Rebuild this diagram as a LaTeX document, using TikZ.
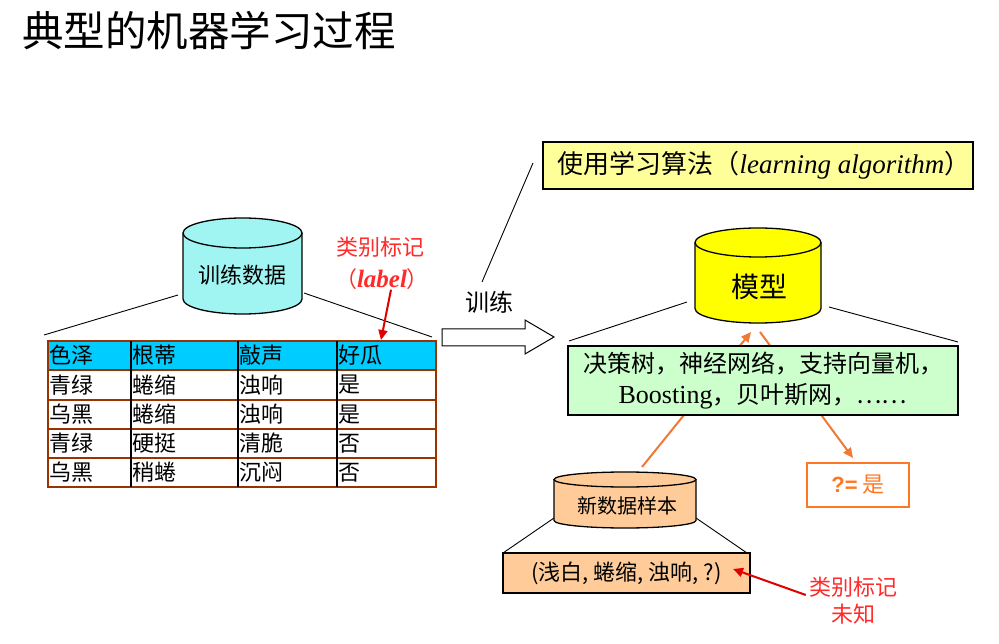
\documentclass[tikz,border=0pt]{standalone}
\usepackage{fontspec}
\newfontfamily\cjk{Noto Sans CJK SC}
\newfontfamily\arialf{Liberation Sans}
\newfontfamily\serifl{Liberation Serif}
\usetikzlibrary{arrows.meta}
\definecolor{cylcyan}{HTML}{A0F5F2}
\definecolor{hdrcyan}{HTML}{00CCFF}
\definecolor{tbrown}{HTML}{993300}
\definecolor{lyellow}{HTML}{FFFF99}
\definecolor{myellow}{HTML}{FFFF00}
\definecolor{lgreen}{HTML}{CCFFCC}
\definecolor{lorange}{HTML}{FFCC99}
\definecolor{arrorange}{HTML}{EE7A35}
\definecolor{txtorange}{HTML}{FF7722}
\definecolor{txtred}{HTML}{FF2A2A}
\definecolor{arrred}{HTML}{E00000}
\newcommand\cylbody[6]{%
  \fill[#6] (#1-#4,#2+#5) rectangle (#1+#4,#3-#5);
  \fill[#6] (#1,#3-#5) ellipse[x radius=#4pt,y radius=#5pt];
  \draw[cylline] (#1-#4,#2+#5) -- (#1-#4,#3-#5) arc[start angle=180,end angle=360,x radius=#4pt,y radius=#5pt] -- (#1+#4,#2+#5);
  \draw[cylline,fill=#6] (#1,#2+#5) ellipse[x radius=#4pt,y radius=#5pt];}
\tikzset{
  cylline/.style={draw=black,line width=1.3pt},
  thinline/.style={draw=black,line width=0.9pt},
  fs/.style={font=\cjk\fontsize{#1}{#1}\selectfont},
  cell/.style={fs=22,anchor=west,inner sep=0pt},
  orarrow/.style={draw=arrorange,line width=2pt,-{Triangle[length=10pt,width=9pt]}},
  redarrow/.style={draw=arrred,line width=2pt,-{Triangle[length=10pt,width=9pt]}},
}
\begin{document}
\begin{tikzpicture}[x=1pt,y=-1pt]
\useasboundingbox[fill=white] (0,0) rectangle (999,644);
% title
\node[fs=41.5,anchor=west,inner sep=0pt] (title) at (22,31) {典型的机器学习过程};

% training data cylinder
\cylbody{242.5}{218}{314}{59.5}{15}{cylcyan}
\node[fs=22,inner sep=0pt] (train) at (242.5,275) {训练数据};
\coordinate (trL) at (178,295);
\coordinate (trR) at (304,293);
\coordinate (tbL) at (44,335);
\coordinate (tbR) at (432,337);
\draw[thinline] (trL) -- (tbL);
\draw[thinline] (trR) -- (tbR);

% table
\fill[hdrcyan] (48,341) rectangle (436,370);
\foreach \yy in {341,370,400,429,458,487} \draw[tbrown,line width=1.6pt] (47,\yy) -- (437,\yy);
\draw[tbrown,line width=1.6pt] (48,341) -- (48,487);
\draw[tbrown,line width=1.6pt] (436,341) -- (436,487);
\foreach \xx in {131,238,337} \draw[black,line width=1.1pt] (\xx,341) -- (\xx,487);
\foreach \r/\yy/\a/\b/\c/\d in {0/355.5/色泽/根蒂/敲声/好瓜, 1/385/青绿/蜷缩/浊响/是, 2/414.5/乌黑/蜷缩/浊响/是, 3/443.5/青绿/硬挺/清脆/否, 4/472.5/乌黑/稍蜷/沉闷/否}{
  \node[cell] (c\r a) at (49,\yy) {\a};
  \node[cell] (c\r b) at (132,\yy) {\b};
  \node[cell] (c\r c) at (239,\yy) {\c};
  \node[cell] (c\r d) at (338,\yy) {\d};
}

% label annotation
\node[fs=22,text=txtred,inner sep=0pt] (lab1) at (380,247) {类别标记};
\node[fs=22,text=txtred,inner sep=0pt] (lab2) at (382,279) {（{\serifl\fontsize{25}{25}\selectfont\bfseries\itshape label}）};
\coordinate (tipL) at (381,340);
\draw[redarrow] ([xshift=9pt]lab2.south) -- (tipL);

% training hollow arrow
\draw[black,line width=1pt,fill=white] (442,329) -- (525,329) -- (525,320) -- (554,337) -- (525,354) -- (525,346) -- (442,346) -- cycle;
\node[fs=24,inner sep=0pt] (trainlbl) at (489,302) {训练};

% callout line to algorithm box
\coordinate (callA) at (482,282);
\coordinate (callB) at (533,163);
\draw[thinline] (callA) -- (callB);

% learning algorithm box
\node[draw=black,line width=1.2pt,fill=lyellow,minimum width=430pt,minimum height=47pt,inner sep=0pt,fs=26] (alg) at (758,165.5) {\hspace*{12pt}使用学习算法（{\serifl\fontsize{27}{27}\selectfont\itshape learning algorithm}）};

% model cylinder
\cylbody{758}{228}{323}{63}{14.5}{myellow}
\node[fs=28,inner sep=0pt] (model) at (759,287) {模型};
\coordinate (moL) at (687,302);
\coordinate (moR) at (829,307);
\coordinate (gbL) at (569,341);
\coordinate (gbR) at (958,342);
\draw[thinline] (moL) -- (gbL);
\draw[thinline] (moR) -- (gbR);

% orange arrows (behind green box)
\coordinate (ndTop) at (642,467);
\coordinate (moBotA) at (751,332);
\coordinate (moBotB) at (760,332);
\draw[orarrow] (ndTop) -- (moBotA);

% answer box
\node[draw=txtorange,line width=1.5pt,fill=white,minimum width=102pt,minimum height=44pt,inner sep=0pt,fs=22,text=txtorange] (ans) at (858,485) {{\arialf\bfseries ?=} 是};
\coordinate (ansTip) at (853,458);
\draw[orarrow] (moBotB) -- (ansTip);

% green box
\node[draw=black,line width=1.2pt,fill=lgreen,minimum width=390pt,minimum height=69pt,inner sep=0pt,align=center,font=\cjk\fontsize{24}{31}\selectfont] (algos) at (763,380.5) {决策树，神经网络，支持向量机，\\{\serifl\fontsize{26}{26}\selectfont Boosting}，贝叶斯网，……};

% new data cylinder
\cylbody{625}{472}{528}{71}{7.5}{lorange}
\node[fs=20,inner sep=0pt] (newdata) at (627,506) {新数据样本};
\coordinate (ndL) at (554,518);
\coordinate (ndR) at (696,518);
\coordinate (smL) at (503,553);
\coordinate (smR) at (747,553);
\draw[thinline] (ndL) -- (smL);
\draw[thinline] (ndR) -- (smR);

% sample box
\node[draw=black,line width=1.2pt,fill=lorange,minimum width=247pt,minimum height=40pt,inner sep=0pt,fs=22] (sample) at (626.5,573) {(浅白, 蜷缩, 浊响, ?)};

% unknown label annotation
\node[text=txtred,align=center,inner sep=0pt,font=\cjk\fontsize{22}{27}\selectfont] (unk) at (853,601) {类别标记\\未知};
\coordinate (tipS) at (733,569);
\draw[redarrow] ([shift={(-3pt,6pt)}]unk.west) -- (tipS);
\end{tikzpicture}
\end{document}
